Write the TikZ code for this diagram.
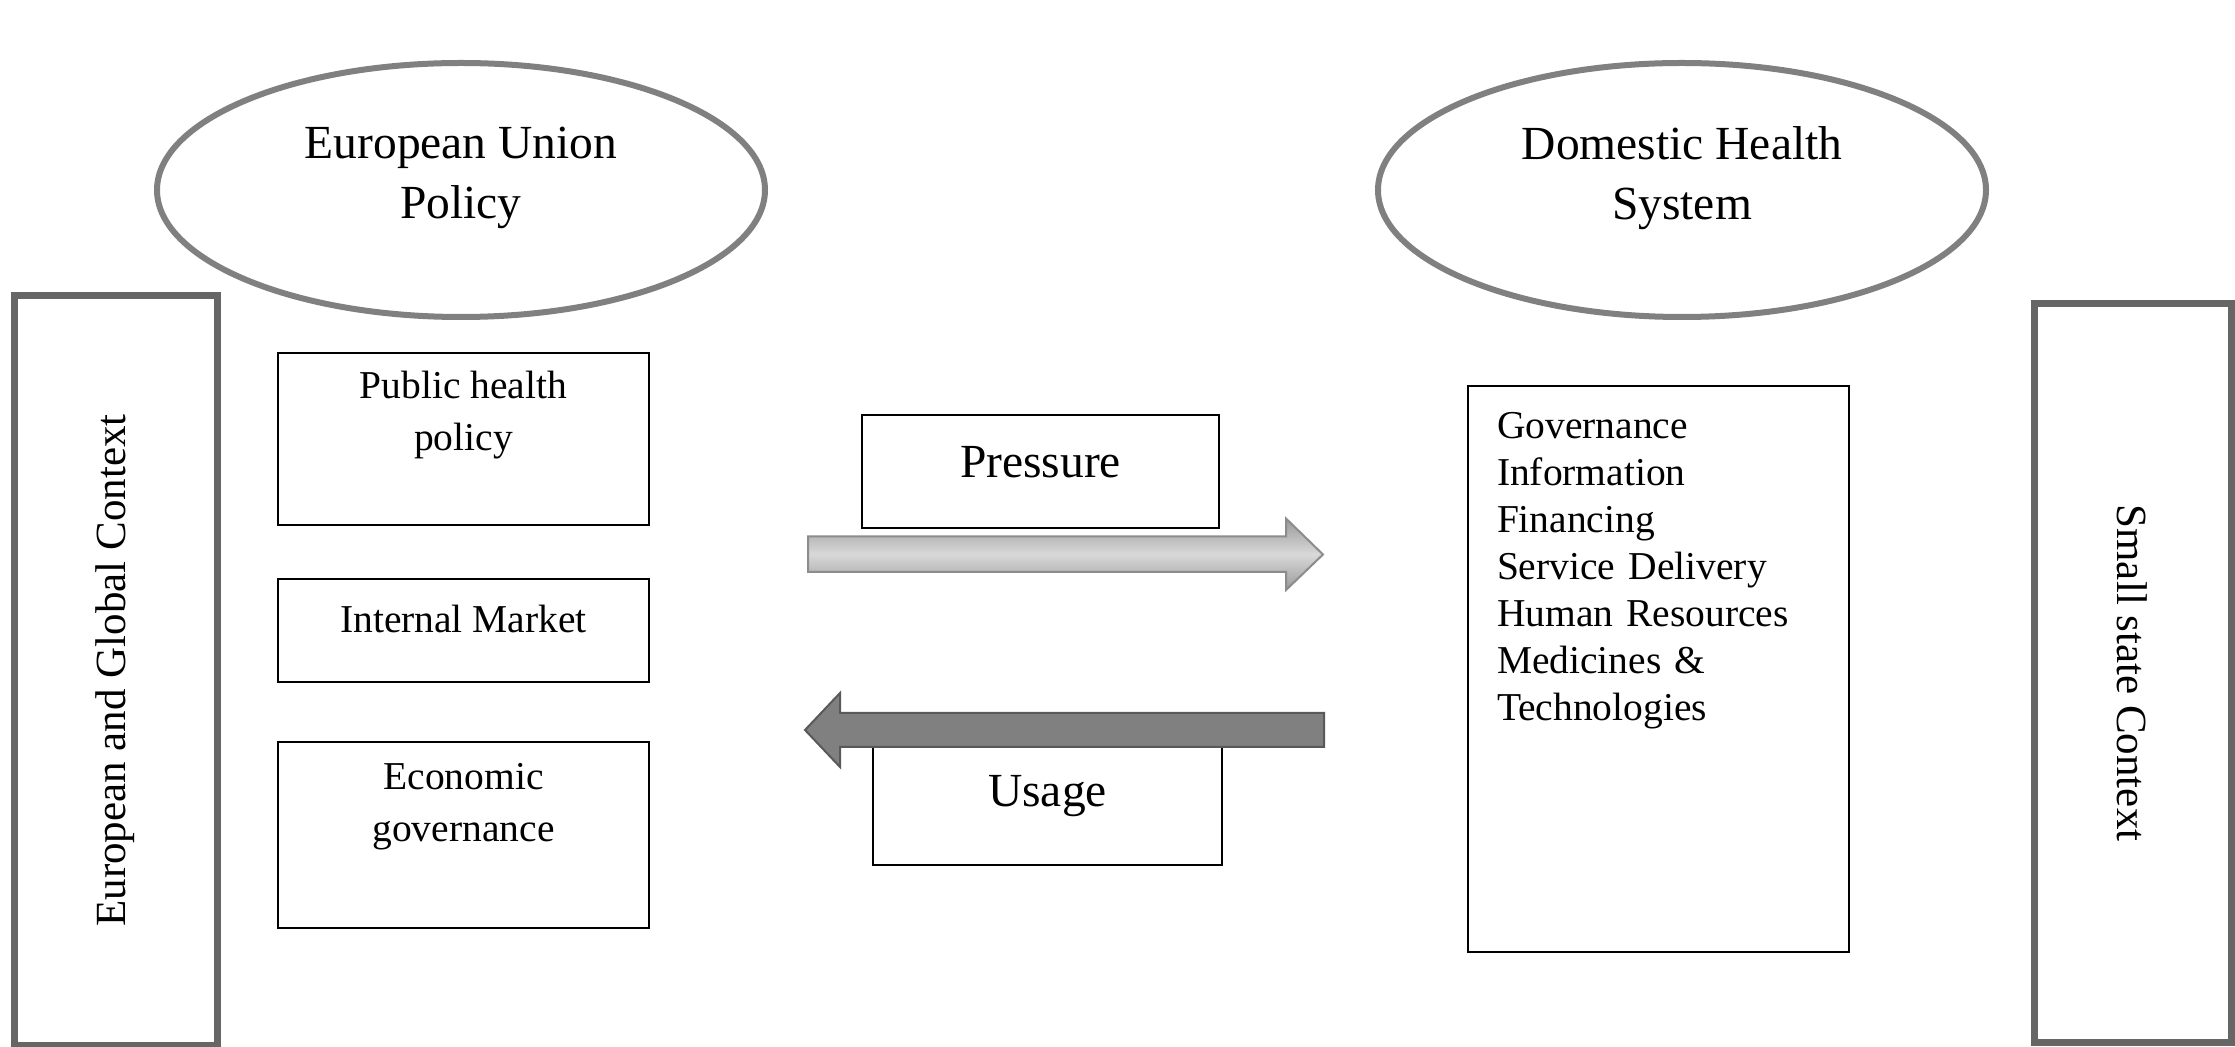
\documentclass[tikz,border=0pt]{standalone}
\usepackage{fontspec}
\setmainfont{Liberation Serif}
\usetikzlibrary{positioning}
\usetikzlibrary{shapes.geometric}

\tikzset {
  % outer frame with vertical caption
  context/.style = {
    draw = black!60,
    line width = 3.5pt,
    rectangle,
    inner sep = 0,
    font = \fontsize{21.5pt}{26pt}\selectfont
  },
  % the two actors
  actor/.style = {
    draw = black!50,
    line width = 3pt,
    ellipse,
    minimum width = 304pt,
    minimum height = 127pt,
    align = center,
    text depth = 17pt,
    font = \fontsize{23.75pt}{30pt}\selectfont
  },
  % policy field
  block/.style = {
    draw = black,
    line width = 1pt,
    rectangle,
    minimum width = 185.5pt,
    align = center,
    font = \fontsize{19.75pt}{26pt}\selectfont
  },
  % label of an exchange
  flow/.style = {
    draw = black,
    line width = 1.2pt,
    rectangle,
    align = center,
    font = \fontsize{23.75pt}{30pt}\selectfont
  }
}
\tikzset {
  push arrow/.style = {
    draw = black!45,
    line width = 1pt,
    top color = black!40,
    bottom color = black!40,
    middle color = black!15
  },
  pull arrow/.style = {
    draw = black!65,
    line width = 1pt,
    fill = black!50
  }
}

\begin{document}
\begin{tikzpicture}[x = 0.5pt, y = -0.5pt]
    \useasboundingbox (0,0) rectangle (2235,1047);

    % context frames
    \node[context, rotate = 90, minimum width = 374.5pt, minimum height = 101.5pt]
      (eu-ctx) at (115.5,670.5) {European and Global Context};
    \node[context, rotate = -90, minimum width = 369pt, minimum height = 98.5pt]
      (ss-ctx) at (2132.5,673) {Small state Context};

    % actors
    \node[actor] (eu-pol) at (461,190) {European Union\\Policy};
    \node[actor] (dhs) at (1682,190) {Domestic Health\\System};

    % EU side
    \node[block, minimum height = 86pt, text depth = 28pt]
      (pub-health) at (463.5,439) {Public health\\policy};
    \node[block, minimum height = 51.5pt, text depth = 11.5pt]
      (int-market) [below = 26pt of pub-health] {Internal Market};
    \node[block, minimum height = 93pt, text depth = 33pt]
      (econ-gov) [below = 29pt of int-market] {Economic\\governance};

    % domestic side
    \node[block, align = left, text width = 161.5pt, inner xsep = 14.5pt,
      minimum height = 283pt, text depth = 244pt,
      font = \fontsize{19.75pt}{23.5pt}\selectfont]
      (dhs-parts) at (1658.5,669) {Governance\\Information\\Financing\\Service Delivery\\Human Resources\\Medicines \&\\Technologies};

    % exchanges
    \node[flow, minimum width = 178.5pt, minimum height = 56.5pt, text depth = 9.5pt]
      (pressure) at (1040.5,471.5) {Pressure};
    \node[flow, minimum width = 174.5pt, minimum height = 59pt, text depth = 15pt]
      (usage) at (1047.5,806) {Usage};

    \coordinate (pressure-tail) at (808,554.5);
    \coordinate (pressure-tip) at (1323,554.5);
    \coordinate (usage-tail) at (1324,730);
    \coordinate (usage-tip) at (805,730);

    \draw[push arrow] (pressure-tail)
      ++(0,17.5) -- ++(478,0) -- ++(0,18)
      -- (pressure-tip)
      -- ++(-37,-36) -- ++(0,18) -- ++(-478,0) -- cycle;

    \draw[pull arrow] (usage-tail)
      ++(0,-17) -- ++(-484,0) -- ++(0,-20)
      -- (usage-tip)
      -- ++(35,37) -- ++(0,-20) -- ++(484,0) -- cycle;
\end{tikzpicture}
\end{document}
